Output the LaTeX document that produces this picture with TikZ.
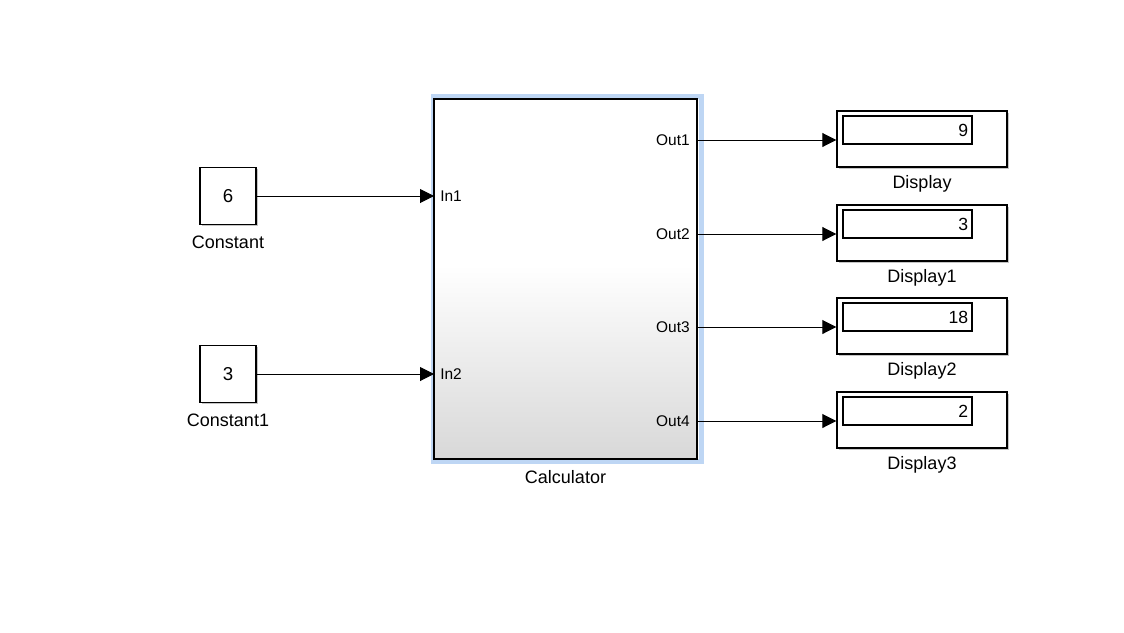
\documentclass[tikz,border=0pt]{standalone}
\usepackage{fontspec}
\setmainfont{Liberation Sans}
\usetikzlibrary{arrows.meta,shadows}

\definecolor{selblue}{RGB}{190,214,244}
\definecolor{calcbot}{RGB}{216,216,216}
\definecolor{shadowgray}{RGB}{150,150,150}

% subsystem body: white in the upper half, fading to light grey at the bottom
\pgfdeclareverticalshading{calcshade}{100bp}{%
  color(0bp)=(calcbot); color(25bp)=(calcbot); color(52bp)=(white);
  color(75bp)=(white); color(100bp)=(white)}

\tikzset{
  blocklabel/.style={font=\fontsize{13.5}{16}\selectfont, inner sep=0pt},
  portlabel/.style={font=\fontsize{11.6}{14}\selectfont, inner sep=0pt},
  blockbox/.style={draw=black, line width=1.1pt, fill=white, inner sep=0pt,
    drop shadow={shadow xshift=1.2pt, shadow yshift=-1.2pt, fill=shadowgray, opacity=0.55}},
  constbox/.style={blockbox, minimum width=42pt, minimum height=42.75pt,
    font=\fontsize{14}{16}\selectfont},
  dispbox/.style={blockbox, minimum width=127.5pt, minimum height=42pt},
  readout/.style={draw=black, line width=0.8pt, fill=white, inner sep=0pt,
    minimum width=96.75pt, minimum height=21pt},
  wire/.style={line width=0.75pt, -{Triangle[length=10.5pt,width=10.5pt]}}
}

\begin{document}
\begin{tikzpicture}[x=0.75pt, y=-0.75pt]
\useasboundingbox (0,0) rectangle (1124,632);

% ---- constant sources ----
\node[constbox] (const0) at (228,196) {6};
\node[blocklabel] (const0lbl) at (228,242) {Constant};
\node[constbox] (const1) at (228,374) {3};
\node[blocklabel] (const1lbl) at (228,420) {Constant1};

% ---- Calculator subsystem (selected) ----
\node[draw=selblue, line width=3.5pt, inner sep=0pt,
      minimum width=197.25pt+3.5pt, minimum height=270pt+3.5pt] (calcsel) at (567.5,279) {};
\node[draw=black, line width=1.1pt, shading=calcshade, inner sep=0pt,
      minimum width=197.25pt, minimum height=270pt] (calc) at (565.5,279) {};
\node[blocklabel] (calclbl) at (565.5,477) {Calculator};

% port positions on the subsystem edges
\coordinate (in1)  at (434,196);
\coordinate (in2)  at (434,374);
\coordinate (out1) at (697,140);
\coordinate (out2) at (697,234);
\coordinate (out3) at (697,327);
\coordinate (out4) at (697,421);

\node[portlabel, anchor=west] (in1lbl) at (440,196) {In1};
\node[portlabel, anchor=west] (in2lbl) at (440,374) {In2};
\node[portlabel, anchor=east] (out1lbl) at (690,140) {Out1};
\node[portlabel, anchor=east] (out2lbl) at (690,234) {Out2};
\node[portlabel, anchor=east] (out3lbl) at (690,327) {Out3};
\node[portlabel, anchor=east] (out4lbl) at (690,421) {Out4};

% ---- display sinks ----
\foreach \i/\yc/\val/\name in {0/139/9/Display, 1/233/3/Display1, 2/326/18/Display2, 3/420/2/Display3}{
  \node[dispbox] (disp\i) at (922,\yc) {};
  \node[readout] (read\i) at (907.5,\yc-9) {};
  \node[font=\fontsize{13.2}{15}\selectfont, inner sep=0pt, anchor=east] (val\i)
        at ([xshift=-3pt]read\i.east) {\val};
  \node[blocklabel] (disp\i lbl) at (922,\yc+45) {\name};
}

% ---- signal lines ----
\draw[wire] (const0.east) -- (in1);
\draw[wire] (const1.east) -- (in2);
\draw[wire] (out1) -- (out1 -| disp0.west);
\draw[wire] (out2) -- (out2 -| disp1.west);
\draw[wire] (out3) -- (out3 -| disp2.west);
\draw[wire] (out4) -- (out4 -| disp3.west);
\end{tikzpicture}
\end{document}
